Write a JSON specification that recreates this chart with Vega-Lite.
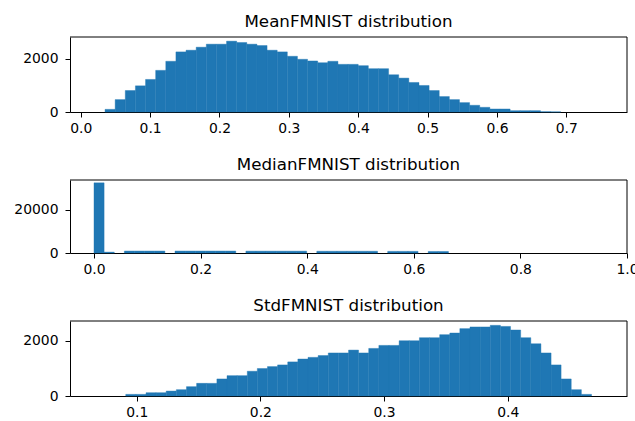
{
  "$schema": "https://vega.github.io/schema/vega-lite/v6.json",
  "padding": {"left": 13, "top": 13, "right": 0, "bottom": 0},
  "bounds": "flush",
  "spacing": 68,
  "datasets": {
    "mean": [
      {"start": 0.0350, "end": 0.0496, "count": 100},
      {"start": 0.0496, "end": 0.0642, "count": 465},
      {"start": 0.0642, "end": 0.0788, "count": 805},
      {"start": 0.0788, "end": 0.0934, "count": 981},
      {"start": 0.0934, "end": 0.1080, "count": 1220},
      {"start": 0.1080, "end": 0.1226, "count": 1560},
      {"start": 0.1226, "end": 0.1372, "count": 1900},
      {"start": 0.1372, "end": 0.1518, "count": 2252},
      {"start": 0.1518, "end": 0.1664, "count": 2315},
      {"start": 0.1664, "end": 0.1810, "count": 2428},
      {"start": 0.1810, "end": 0.1956, "count": 2541},
      {"start": 0.1956, "end": 0.2102, "count": 2541},
      {"start": 0.2102, "end": 0.2248, "count": 2654},
      {"start": 0.2248, "end": 0.2394, "count": 2604},
      {"start": 0.2394, "end": 0.2540, "count": 2541},
      {"start": 0.2540, "end": 0.2686, "count": 2491},
      {"start": 0.2686, "end": 0.2832, "count": 2315},
      {"start": 0.2832, "end": 0.2978, "count": 2252},
      {"start": 0.2978, "end": 0.3124, "count": 2088},
      {"start": 0.3124, "end": 0.3270, "count": 1975},
      {"start": 0.3270, "end": 0.3416, "count": 1912},
      {"start": 0.3416, "end": 0.3562, "count": 1849},
      {"start": 0.3562, "end": 0.3708, "count": 1900},
      {"start": 0.3708, "end": 0.3854, "count": 1786},
      {"start": 0.3854, "end": 0.4000, "count": 1786},
      {"start": 0.4000, "end": 0.4146, "count": 1736},
      {"start": 0.4146, "end": 0.4292, "count": 1623},
      {"start": 0.4292, "end": 0.4438, "count": 1623},
      {"start": 0.4438, "end": 0.4584, "count": 1396},
      {"start": 0.4584, "end": 0.4730, "count": 1270},
      {"start": 0.4730, "end": 0.4876, "count": 1107},
      {"start": 0.4876, "end": 0.5022, "count": 994},
      {"start": 0.5022, "end": 0.5168, "count": 805},
      {"start": 0.5168, "end": 0.5314, "count": 579},
      {"start": 0.5314, "end": 0.5460, "count": 465},
      {"start": 0.5460, "end": 0.5606, "count": 352},
      {"start": 0.5606, "end": 0.5752, "count": 252},
      {"start": 0.5752, "end": 0.5898, "count": 176},
      {"start": 0.5898, "end": 0.6044, "count": 113},
      {"start": 0.6044, "end": 0.6190, "count": 113},
      {"start": 0.6190, "end": 0.6336, "count": 50},
      {"start": 0.6336, "end": 0.6482, "count": 50},
      {"start": 0.6482, "end": 0.6628, "count": 50},
      {"start": 0.6628, "end": 0.6774, "count": 12},
      {"start": 0.6774, "end": 0.6920, "count": 6}
    ],
    "median": [
      {"start": 0.000, "end": 0.019, "count": 32300},
      {"start": 0.019, "end": 0.038, "count": 400},
      {"start": 0.057, "end": 0.076, "count": 900},
      {"start": 0.076, "end": 0.095, "count": 900},
      {"start": 0.095, "end": 0.114, "count": 900},
      {"start": 0.114, "end": 0.133, "count": 900},
      {"start": 0.152, "end": 0.171, "count": 900},
      {"start": 0.171, "end": 0.190, "count": 900},
      {"start": 0.190, "end": 0.209, "count": 900},
      {"start": 0.209, "end": 0.228, "count": 900},
      {"start": 0.228, "end": 0.247, "count": 900},
      {"start": 0.247, "end": 0.266, "count": 900},
      {"start": 0.285, "end": 0.304, "count": 850},
      {"start": 0.304, "end": 0.323, "count": 850},
      {"start": 0.323, "end": 0.342, "count": 850},
      {"start": 0.342, "end": 0.361, "count": 850},
      {"start": 0.361, "end": 0.380, "count": 850},
      {"start": 0.380, "end": 0.399, "count": 850},
      {"start": 0.418, "end": 0.437, "count": 800},
      {"start": 0.437, "end": 0.456, "count": 800},
      {"start": 0.456, "end": 0.475, "count": 800},
      {"start": 0.475, "end": 0.494, "count": 800},
      {"start": 0.494, "end": 0.513, "count": 800},
      {"start": 0.513, "end": 0.532, "count": 800},
      {"start": 0.551, "end": 0.570, "count": 750},
      {"start": 0.570, "end": 0.589, "count": 750},
      {"start": 0.589, "end": 0.608, "count": 750},
      {"start": 0.627, "end": 0.646, "count": 700},
      {"start": 0.646, "end": 0.665, "count": 700}
    ],
    "std": [
      {"start": 0.0911, "end": 0.0993, "count": 60},
      {"start": 0.0993, "end": 0.1075, "count": 60},
      {"start": 0.1075, "end": 0.1156, "count": 120},
      {"start": 0.1156, "end": 0.1238, "count": 120},
      {"start": 0.1238, "end": 0.1320, "count": 180},
      {"start": 0.1320, "end": 0.1402, "count": 230},
      {"start": 0.1402, "end": 0.1484, "count": 340},
      {"start": 0.1484, "end": 0.1566, "count": 460},
      {"start": 0.1566, "end": 0.1648, "count": 460},
      {"start": 0.1648, "end": 0.1730, "count": 620},
      {"start": 0.1730, "end": 0.1812, "count": 740},
      {"start": 0.1812, "end": 0.1894, "count": 740},
      {"start": 0.1894, "end": 0.1975, "count": 900},
      {"start": 0.1975, "end": 0.2057, "count": 1000},
      {"start": 0.2057, "end": 0.2139, "count": 1070},
      {"start": 0.2139, "end": 0.2221, "count": 1130},
      {"start": 0.2221, "end": 0.2303, "count": 1240},
      {"start": 0.2303, "end": 0.2385, "count": 1345},
      {"start": 0.2385, "end": 0.2467, "count": 1405},
      {"start": 0.2467, "end": 0.2549, "count": 1470},
      {"start": 0.2549, "end": 0.2631, "count": 1565},
      {"start": 0.2631, "end": 0.2713, "count": 1565},
      {"start": 0.2713, "end": 0.2794, "count": 1670},
      {"start": 0.2794, "end": 0.2876, "count": 1565},
      {"start": 0.2876, "end": 0.2958, "count": 1730},
      {"start": 0.2958, "end": 0.3040, "count": 1840},
      {"start": 0.3040, "end": 0.3122, "count": 1840},
      {"start": 0.3122, "end": 0.3204, "count": 2010},
      {"start": 0.3204, "end": 0.3286, "count": 2010},
      {"start": 0.3286, "end": 0.3368, "count": 2120},
      {"start": 0.3368, "end": 0.3450, "count": 2120},
      {"start": 0.3450, "end": 0.3532, "count": 2230},
      {"start": 0.3532, "end": 0.3613, "count": 2290},
      {"start": 0.3613, "end": 0.3695, "count": 2450},
      {"start": 0.3695, "end": 0.3777, "count": 2510},
      {"start": 0.3777, "end": 0.3859, "count": 2510},
      {"start": 0.3859, "end": 0.3941, "count": 2570},
      {"start": 0.3941, "end": 0.4023, "count": 2530},
      {"start": 0.4023, "end": 0.4105, "count": 2400},
      {"start": 0.4105, "end": 0.4187, "count": 2120},
      {"start": 0.4187, "end": 0.4269, "count": 1900},
      {"start": 0.4269, "end": 0.4351, "count": 1565},
      {"start": 0.4351, "end": 0.4432, "count": 1130},
      {"start": 0.4432, "end": 0.4514, "count": 620},
      {"start": 0.4514, "end": 0.4596, "count": 230},
      {"start": 0.4596, "end": 0.4678, "count": 60}
    ]
  },
  "vconcat": [
    {
      "title": "MeanFMNIST distribution",
      "width": 557,
      "height": 75,
      "layer": [
        {
          "data": {"name": "mean"},
          "mark": {"type": "bar", "color": "#1f77b4", "stroke": "#1f77b4", "strokeWidth": 0.4},
          "encoding": {
            "x": {"field": "start", "type": "quantitative", "scale": {"domain": [-0.0155, 0.7875], "nice": false, "zero": false},
                  "axis": {"values": [0, 0.1, 0.2, 0.3, 0.4, 0.5, 0.6, 0.7], "format": ".1f"}},
            "x2": {"field": "end"},
            "y": {"field": "count", "type": "quantitative", "scale": {"domain": [0, 2810], "nice": false},
                  "axis": {"values": [0, 2000], "format": "d"}},
            "y2": {"datum": 0}
          }
        },
        {"data": {"values": [{}]}, "mark": {"type": "rule", "color": "#000", "strokeWidth": 1}, "encoding": {"y": {"datum": 2810, "type": "quantitative"}}},
        {"data": {"values": [{}]}, "mark": {"type": "rule", "color": "#000", "strokeWidth": 1}, "encoding": {"x": {"datum": 0.7875, "type": "quantitative"}}}
      ]
    },
    {
      "title": "MedianFMNIST distribution",
      "width": 557,
      "height": 73,
      "layer": [
        {
          "data": {"name": "median"},
          "mark": {"type": "bar", "color": "#1f77b4", "stroke": "#1f77b4", "strokeWidth": 0.4},
          "encoding": {
            "x": {"field": "start", "type": "quantitative", "scale": {"domain": [-0.045, 1.0], "nice": false, "zero": false},
                  "axis": {"values": [0, 0.2, 0.4, 0.6, 0.8, 1.0], "format": ".1f"}},
            "x2": {"field": "end"},
            "y": {"field": "count", "type": "quantitative", "scale": {"domain": [0, 33600], "nice": false},
                  "axis": {"values": [0, 20000], "format": "d"}},
            "y2": {"datum": 0}
          }
        },
        {"data": {"values": [{}]}, "mark": {"type": "rule", "color": "#000", "strokeWidth": 1}, "encoding": {"y": {"datum": 33600, "type": "quantitative"}}},
        {"data": {"values": [{}]}, "mark": {"type": "rule", "color": "#000", "strokeWidth": 1}, "encoding": {"x": {"datum": 1.0, "type": "quantitative"}}}
      ]
    },
    {
      "title": "StdFMNIST distribution",
      "width": 557,
      "height": 75,
      "layer": [
        {
          "data": {"name": "std"},
          "mark": {"type": "bar", "color": "#1f77b4", "stroke": "#1f77b4", "strokeWidth": 0.4},
          "encoding": {
            "x": {"field": "start", "type": "quantitative", "scale": {"domain": [0.046, 0.4965], "nice": false, "zero": false},
                  "axis": {"values": [0.1, 0.2, 0.3, 0.4], "format": ".1f"}},
            "x2": {"field": "end"},
            "y": {"field": "count", "type": "quantitative", "scale": {"domain": [0, 2727], "nice": false},
                  "axis": {"values": [0, 2000], "format": "d"}},
            "y2": {"datum": 0}
          }
        },
        {"data": {"values": [{}]}, "mark": {"type": "rule", "color": "#000", "strokeWidth": 1}, "encoding": {"y": {"datum": 2727, "type": "quantitative"}}},
        {"data": {"values": [{}]}, "mark": {"type": "rule", "color": "#000", "strokeWidth": 1}, "encoding": {"x": {"datum": 0.4965, "type": "quantitative"}}}
      ]
    }
  ],
  "config": {
    "font": "DejaVu Sans",
    "view": {"stroke": null},
    "axis": {
      "grid": false, "domain": true, "domainColor": "#000", "domainWidth": 1, "title": null,
      "tickColor": "#000", "tickSize": 5, "tickWidth": 1,
      "labelFont": "DejaVu Sans", "labelFontSize": 13.9, "labelColor": "#000",
      "labelFlush": false, "labelOverlap": false, "labelBound": false
    },
    "axisX": {"labelPadding": 4},
    "axisY": {"labelPadding": 7},
    "title": {"font": "DejaVu Sans", "fontSize": 16.7, "fontWeight": "normal", "color": "#000",
              "anchor": "middle", "frame": "group", "offset": 6, "baseline": "alphabetic"}
  }
}
